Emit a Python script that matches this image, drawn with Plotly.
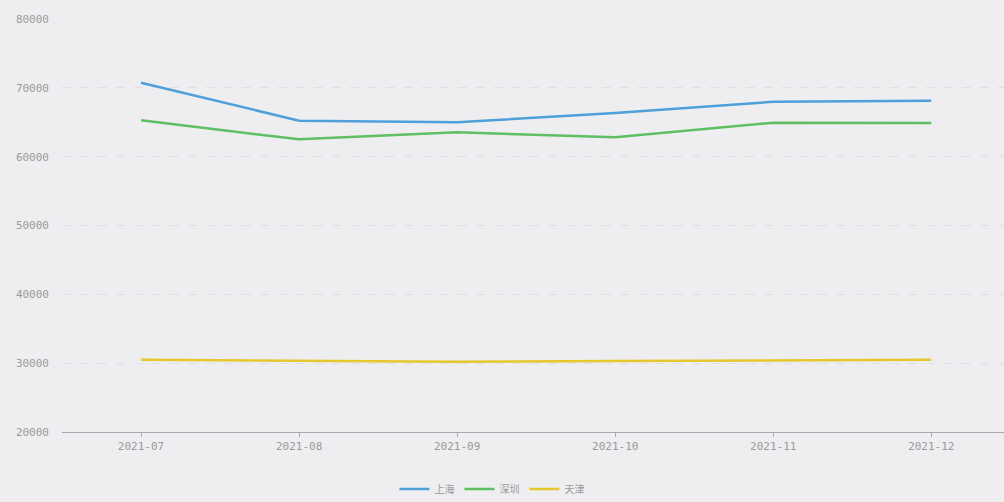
import plotly.graph_objects as go

months = ["2021-07", "2021-08", "2021-09", "2021-10", "2021-11", "2021-12"]
shanghai = [70740, 65230, 64990, 66340, 67980, 68130]
shenzhen = [65280, 62520, 63540, 62820, 64930, 64890]
tianjin = [30500, 30300, 30200, 30300, 30400, 30500]
y_ticks = [20000, 30000, 40000, 50000, 60000, 70000, 80000]
y_tick_labels = ["20000", "30000", "40000", "50000", "60000", "70000", "80000"]

series = [("上海", shanghai, "#4f9fd9"), ("深圳", shenzhen, "#5fbf62"), ("天津", tianjin, "#e6c72e")]

fig = go.Figure()
for name, vals, color in series:
    fig.add_trace(go.Scatter(x=list(range(len(months))), y=vals, name=name, mode="lines",
                             line=dict(color=color, width=2.5)))

bg = "#eeeef0"
fig.update_layout(
    width=1004, height=502,
    paper_bgcolor=bg, plot_bgcolor=bg,
    margin=dict(l=62, r=0, t=19, b=70, autoexpand=False),
    font=dict(family="DejaVu Sans Mono", size=10, color="#999999"),
    legend=dict(orientation="h", xref="container", x=0.49, xanchor="center",
                y=-0.138, yanchor="middle",
                font=dict(family="Noto Sans CJK SC", size=10, color="#999999"),
                itemwidth=30),
    showlegend=True,
)
fig.update_xaxes(
    tickmode="array", tickvals=list(range(len(months))), ticktext=months,
    range=[-0.5, 5.46], showgrid=False, zeroline=False, automargin=False,
    showline=True, linecolor="#a8a8b0", linewidth=1,
    ticks="outside", ticklen=4, tickcolor="#a8a8b0",
    tickfont=dict(size=11, color="#9a9a9a"),
)
fig.update_yaxes(
    tickmode="array", tickvals=y_ticks, ticktext=y_tick_labels, range=[20000, 80000],
    showgrid=True, gridcolor="#e0e0e4", griddash="dash", gridwidth=1,
    zeroline=False, showline=False, ticks="", ticklabelstandoff=12, automargin=False,
    tickfont=dict(size=11, color="#9a9a9a"),
)
fig.write_html("out.html", config={"displayModeBar": False},
               post_script="document.body.style.margin='0px';document.body.style.background='#eeeef0';")
